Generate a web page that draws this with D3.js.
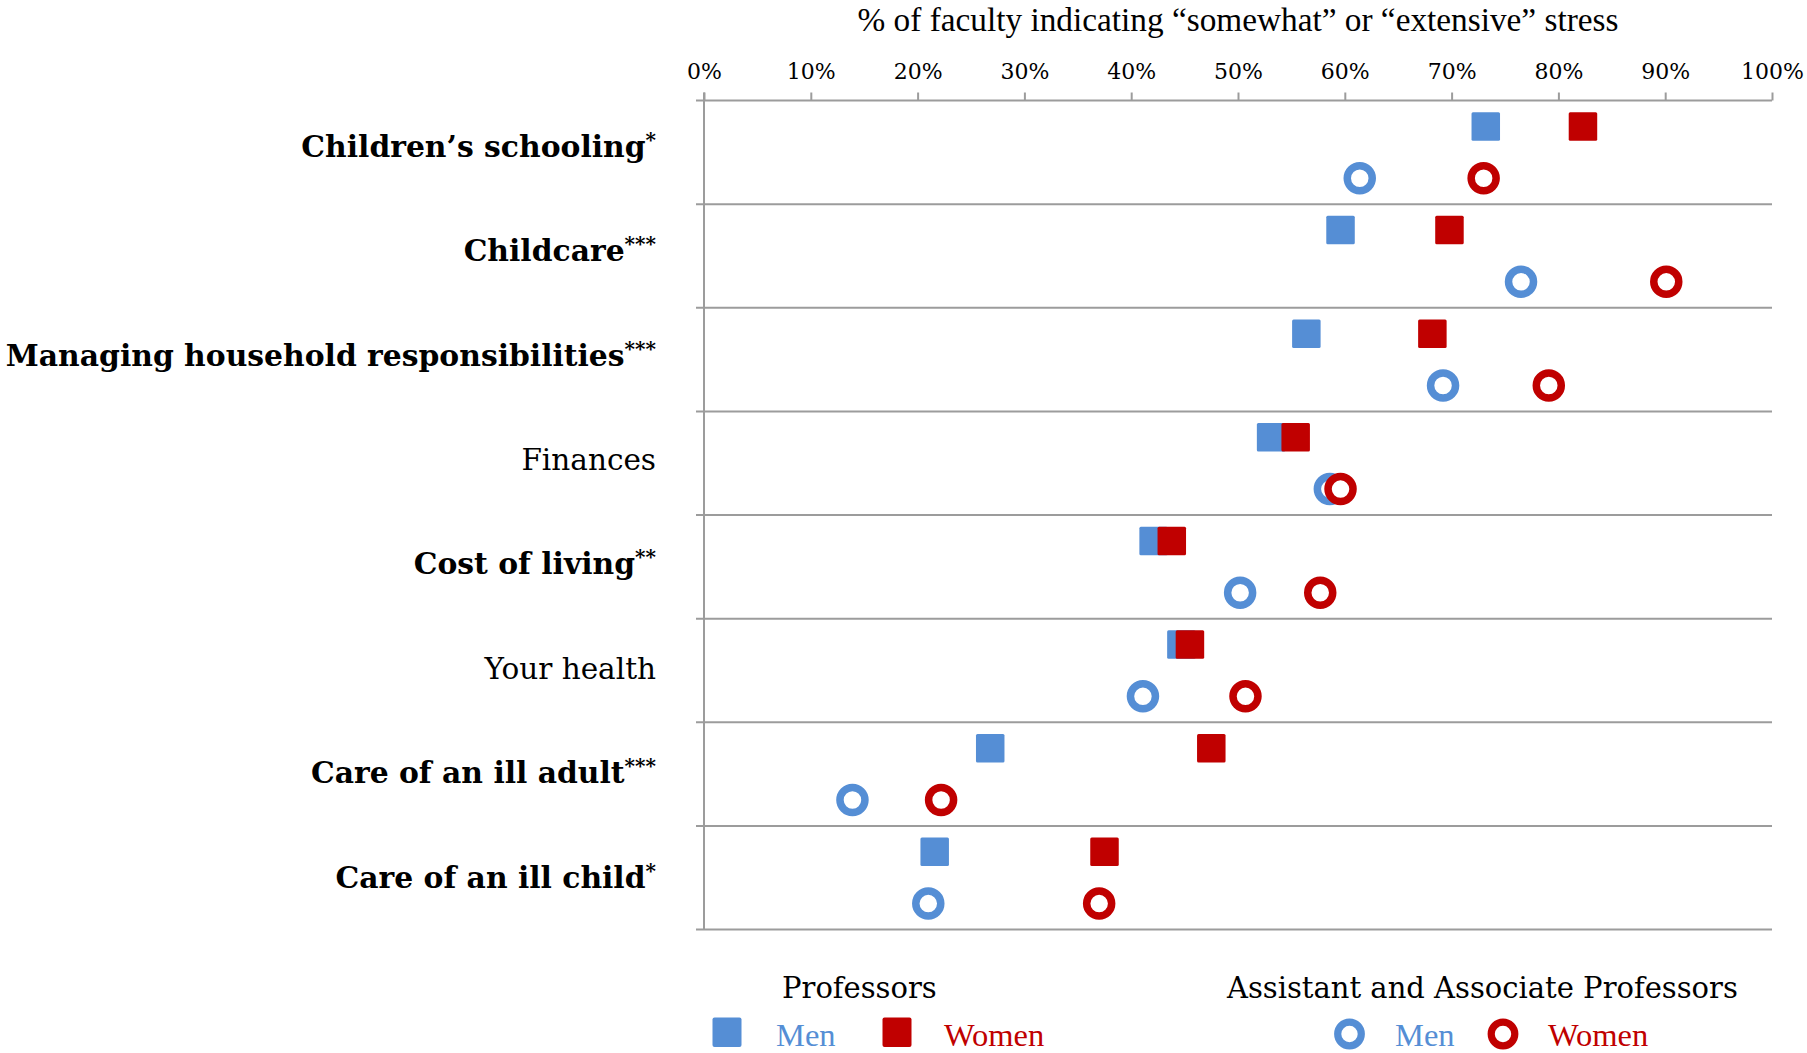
<!DOCTYPE html>
<html>
<head>
<meta charset="utf-8">
<script src="https://cdn.jsdelivr.net/npm/d3@7"></script>
<style>
  html, body { margin: 0; padding: 0; background: #fff; }
  svg { display: block; }
</style>
</head>
<body>
<svg id="chart" width="1807" height="1053"></svg>
<script>
// ---- Data ----
const categories = [
  "Children’s schooling",
  "Childcare",
  "Managing household responsibilities",
  "Finances",
  "Cost of living",
  "Your health",
  "Care of an ill adult",
  "Care of an ill child"
];
const significance = ["*", "***", "***", "", "**", "", "***", "*"];
const profMen     = [73.2, 59.6, 56.4, 53.1, 42.1, 44.7, 26.8, 21.6];
const profWomen   = [82.3, 69.8, 68.2, 55.4, 43.8, 45.5, 47.5, 37.5];
const asstMen     = [61.4, 76.5, 69.2, 58.6, 50.2, 41.1, 13.9, 21.0];
const asstWomen   = [73.0, 90.1, 79.1, 59.6, 57.7, 50.7, 22.2, 37.0];
const xTicks = [0, 10, 20, 30, 40, 50, 60, 70, 80, 90, 100];
const groups = ["Professors", "Assistant and Associate Professors"];
const genders = ["Men", "Women"];
const titleText = "% of faculty indicating “somewhat” or “extensive” stress";

// ---- Style ----
const BLUE = "#558ED5", RED = "#C00000", GRID = "#9c9c9c";
const svg = d3.select("#chart");

const x = d3.scaleLinear().domain([0, 100]).range([704, 1772]);
const y = d3.scaleBand().domain(categories).range([100.5, 929.5]).padding(0);
const labelY = d3.scaleBand().domain(categories).range([96, 931.2]).padding(0);
const sub = d3.scaleBand().domain(["prof", "asst"]).range([0, y.bandwidth()]);
const subC = k => sub(k) + sub.bandwidth() / 2;

// Title
svg.append("text")
  .attr("x", (x(0) + x(100)) / 2).attr("y", 31)
  .attr("text-anchor", "middle")
  .style("font-family", "'Liberation Serif', serif").style("font-size", "33.3px")
  .attr("fill", "#000")
  .text(titleText);

// Top axis
const xAxis = d3.axisTop(x).tickValues(xTicks).tickFormat(d => d + "%")
  .tickSize(8).tickSizeOuter(0).tickPadding(14);
const gx = svg.append("g").attr("transform", "translate(0,100.5)").call(xAxis);
gx.select(".domain").remove();
gx.selectAll(".tick line").attr("stroke", GRID).attr("stroke-width", 2);
gx.selectAll(".tick text")
  .style("font-family", "'DejaVu Serif', serif").style("font-size", "22px")
  .attr("fill", "#000");

// Horizontal separators (top axis line + band boundaries)
const boundaries = [y.range()[0]].concat(categories.map(c => y(c) + y.bandwidth()));
svg.append("g").selectAll("line").data(boundaries).join("line")
  .attr("x1", x(0) - 8).attr("x2", x(100))
  .attr("y1", d => d).attr("y2", d => d)
  .attr("stroke", GRID).attr("stroke-width", 2);

// Left vertical axis line
svg.append("line")
  .attr("x1", x(0)).attr("x2", x(0))
  .attr("y1", 92.5).attr("y2", y.range()[1])
  .attr("stroke", GRID).attr("stroke-width", 2);

// Category labels
const labels = svg.append("g").selectAll("text").data(categories).join("text")
  .attr("x", 656)
  .attr("y", d => labelY(d) + labelY.bandwidth() / 2 + 8.5)
  .attr("text-anchor", "end")
  .style("font-family", "'DejaVu Serif', serif")
  .style("font-size", (d, i) => significance[i] ? "29.8px" : "29.5px")
  .style("font-weight", (d, i) => significance[i] ? "bold" : "normal")
  .attr("fill", "#000");
labels.append("tspan").text(d => d);
labels.append("tspan")
  .style("font-size", "20px")
  .attr("dy", -10)
  .text((d, i) => significance[i]);

// Marks
const SQ = 28.5, R = 12.5, SW = 7.5;
function squares(vals, color) {
  svg.append("g").selectAll("rect").data(categories).join("rect")
    .attr("x", (d, i) => x(vals[i]) - SQ / 2)
    .attr("y", d => y(d) + subC("prof") - SQ / 2)
    .attr("width", SQ).attr("height", SQ).attr("rx", 1.5)
    .attr("fill", color);
}
function rings(vals, color) {
  svg.append("g").selectAll("circle").data(categories).join("circle")
    .attr("cx", (d, i) => x(vals[i]))
    .attr("cy", d => y(d) + subC("asst"))
    .attr("r", R).attr("fill", "#fff")
    .attr("stroke", color).attr("stroke-width", SW);
}
squares(profMen, BLUE);
squares(profWomen, RED);
rings(asstMen, BLUE);
rings(asstWomen, RED);

// Legend
const leg = svg.append("g");
const headFont = "'DejaVu Serif', serif";
const itemFont = "'Liberation Serif', serif";
leg.append("text").attr("x", 782).attr("y", 998)
  .style("font-family", headFont).style("font-size", "29px").text(groups[0]);
leg.append("text").attr("x", 1227).attr("y", 998)
  .style("font-family", headFont).style("font-size", "29px").text(groups[1]);

const legendItems = [
  {type: "sq", color: BLUE, cx: 727, tx: 776, label: genders[0]},
  {type: "sq", color: RED, cx: 897, tx: 944, label: genders[1]},
  {type: "ring", color: BLUE, cx: 1349.5, tx: 1395, label: genders[0]},
  {type: "ring", color: RED, cx: 1503, tx: 1548, label: genders[1]}
];
legendItems.forEach(it => {
  if (it.type === "sq") {
    leg.append("rect").attr("x", it.cx - 14.5).attr("y", 1017.5)
      .attr("width", 29).attr("height", 29.5).attr("rx", 2).attr("fill", it.color);
  } else {
    leg.append("circle").attr("cx", it.cx).attr("cy", 1034).attr("r", 11.8)
      .attr("fill", "#fff").attr("stroke", it.color).attr("stroke-width", 7.2);
  }
  leg.append("text").attr("x", it.tx).attr("y", 1046)
    .style("font-family", itemFont).style("font-size", "32.5px")
    .attr("fill", it.color).text(it.label);
});
</script>
</body>
</html>
